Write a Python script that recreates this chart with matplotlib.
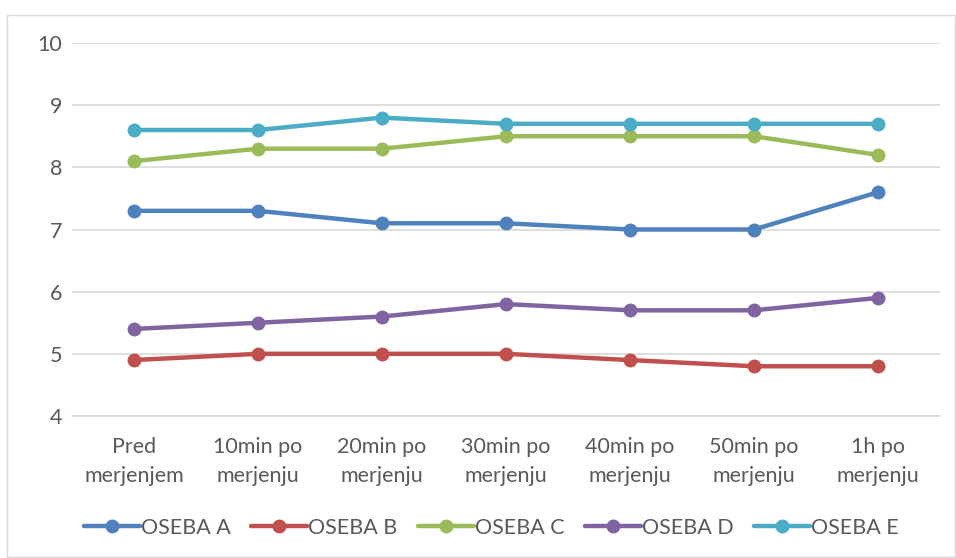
import matplotlib
matplotlib.use("Agg")
import matplotlib.pyplot as plt
from matplotlib.patches import Rectangle

categories = ["Pred\nmerjenjem", "10min po\nmerjenju", "20min po\nmerjenju", "30min po\nmerjenju",
              "40min po\nmerjenju", "50min po\nmerjenju", "1h po\nmerjenju"]
oseba_a = [7.3, 7.3, 7.1, 7.1, 7.0, 7.0, 7.6]
oseba_b = [4.9, 5.0, 5.0, 5.0, 4.9, 4.8, 4.8]
oseba_c = [8.1, 8.3, 8.3, 8.5, 8.5, 8.5, 8.2]
oseba_d = [5.4, 5.5, 5.6, 5.8, 5.7, 5.7, 5.9]
oseba_e = [8.6, 8.6, 8.8, 8.7, 8.7, 8.7, 8.7]
series_names = ["OSEBA A", "OSEBA B", "OSEBA C", "OSEBA D", "OSEBA E"]
colors = ["#4F81BD", "#C0504D", "#9BBB59", "#8064A2", "#4BACC6"]
yticks = [4, 5, 6, 7, 8, 9, 10]

plt.rcParams['font.family'] = ['Lato', 'DejaVu Sans']

fig = plt.figure(figsize=(9.56, 5.58), dpi=100)
fig.patches.append(Rectangle((7/956, 1-557/558), 948/956, (557-15)/558, transform=fig.transFigure,
                             fill=False, edgecolor="#D9D9D9", linewidth=1))
ax = fig.add_axes([72/956, 1-416/558, 868/956, (416-43)/558])

x = list(range(len(categories)))
for name, vals, c in zip(series_names, [oseba_a, oseba_b, oseba_c, oseba_d, oseba_e], colors):
    ax.plot(x, vals, color=c, linewidth=3.2, marker="o", markersize=9, label=name, solid_capstyle="round")

ax.set_xlim(-0.5, len(categories) - 0.5)
ax.set_ylim(4, 10)
ax.set_yticks(yticks)
ax.set_xticks(x)
ax.set_xticklabels(categories, fontsize=15.5, color="#595959", linespacing=1.55)
ax.set_yticklabels([str(t) for t in yticks], fontsize=15.5, color="#595959")
ax.grid(axis="y", color="#D9D9D9", linewidth=1.2)
ax.set_axisbelow(True)
for s in ["left", "right", "top"]:
    ax.spines[s].set_visible(False)
ax.spines["bottom"].set_color("#D9D9D9")
ax.spines["bottom"].set_linewidth(1.2)
ax.tick_params(axis="both", length=0)
ax.tick_params(axis="y", pad=7)
ax.tick_params(axis="x", pad=15)

fig.legend(loc="center", bbox_to_anchor=(0.514, 1-528/558), ncol=5, frameon=False,
           fontsize=15.5, labelcolor="#595959", handlelength=2.6, handletextpad=0.05, columnspacing=0.95)

fig.savefig("out.png", dpi=100)
